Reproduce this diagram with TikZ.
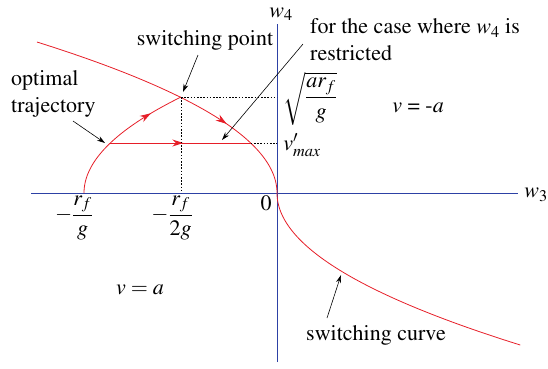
\documentclass[tikz,border=0pt]{standalone}
\usepackage[T1]{fontenc}
\usepackage{amsmath}
\usepackage{mathptmx}
\usetikzlibrary{arrows.meta,decorations.markings}
\definecolor{axisblue}{RGB}{45,65,165}
\definecolor{curvered}{RGB}{230,30,40}
\begin{document}
\begin{tikzpicture}[x=1pt, y=-1pt, every node/.style={font=\fontsize{22}{27}\selectfont, inner sep=0pt},
  axis/.style={draw=axisblue, line width=1pt},
  curve/.style={draw=curvered, line width=0.8pt},
  guide/.style={dash pattern=on 1.6pt off 1.6pt, line width=0.8pt},
  pointer/.style={-{Stealth[length=8pt,width=5pt]}, line width=0.6pt},
  midarrow/.style={postaction={decorate}, decoration={markings, mark=at position #1 with {\arrow{Stealth[length=11pt,width=7pt]}}}}]
\useasboundingbox (0,0) rectangle (548,368);
% axes
\coordinate (o) at (277,193);
\coordinate (xl) at (31,193);
\coordinate (xr) at (518,193);
\coordinate (yt) at (277,24);
\coordinate (yb) at (277,362);
\draw[axis] (xl) -- (xr);
\draw[axis] (yb) -- (yt);
% switching curve and trajectory
\coordinate (sw) at (181,97);
\coordinate (h1) at (110.3,143);
\coordinate (h2) at (250.7,143);
\draw[curve, midarrow=0.70] plot[domain=0:151, samples=90] ({277-0.01053*(151-\x)*(151-\x)},{42+\x});
\draw[curve] plot[domain=0:152, samples=90] ({277+0.01053*\x*\x},{193+\x});
\draw[curve, midarrow=0.76] plot[domain=0:96, samples=60] ({84+0.01053*\x*\x},{193-\x});
\draw[curve, line width=1pt, midarrow=0.52] (h1) -- (h2);
% guides
\coordinate (sa) at (277,97);
\coordinate (sb) at (181,193);
\coordinate (hb) at (277,143);
\draw[guide] (sw) -- (sa);
\draw[guide] (sw) -- (sb);
\draw[guide] (h2) -- (hb);
% labels
\node (w4) at (281,14) {$w_4$};
\node (w3) at (536,195) {$w_3$};
\node (zero) at (266,203) {0};
\node (rfg) at (74,218) {$-\dfrac{r_f}{g}$};
\node (rftwog) at (172,218) {$-\dfrac{r_f}{2g}$};
\node (sq) at (310,99) {$\sqrt{\dfrac{ar_f}{g}}$};
\node (vmax) at (302,145) {$v'_{max}$};
\node (vneg) at (418,108) {$v$ = -$a$};
\node (vpos) at (140,290) {$v = a$};
\node (swp) at (205,40) {switching point};
\node[align=left, anchor=west] (opt) at (11,94) {optimal\\trajectory};
\node[align=left, anchor=west] (case) at (310,40) {for the case where $w_4$ is\\restricted};
\node (swc) at (376,335) {switching curve};
% pointers
\coordinate (p1) at (198,55);
\coordinate (p1e) at (183,92);
\coordinate (p2) at (73,121);
\coordinate (p2e) at (105,143);
\coordinate (p3) at (303,44);
\coordinate (p3e) at (222,140);
\coordinate (p4) at (327,318);
\coordinate (p4e) at (341,275);
\draw[pointer] (p1) -- (p1e);
\draw[pointer] (p2) -- (p2e);
\draw[pointer] (p3) -- (p3e);
\draw[pointer] (p4) -- (p4e);
\end{tikzpicture}
\end{document}
